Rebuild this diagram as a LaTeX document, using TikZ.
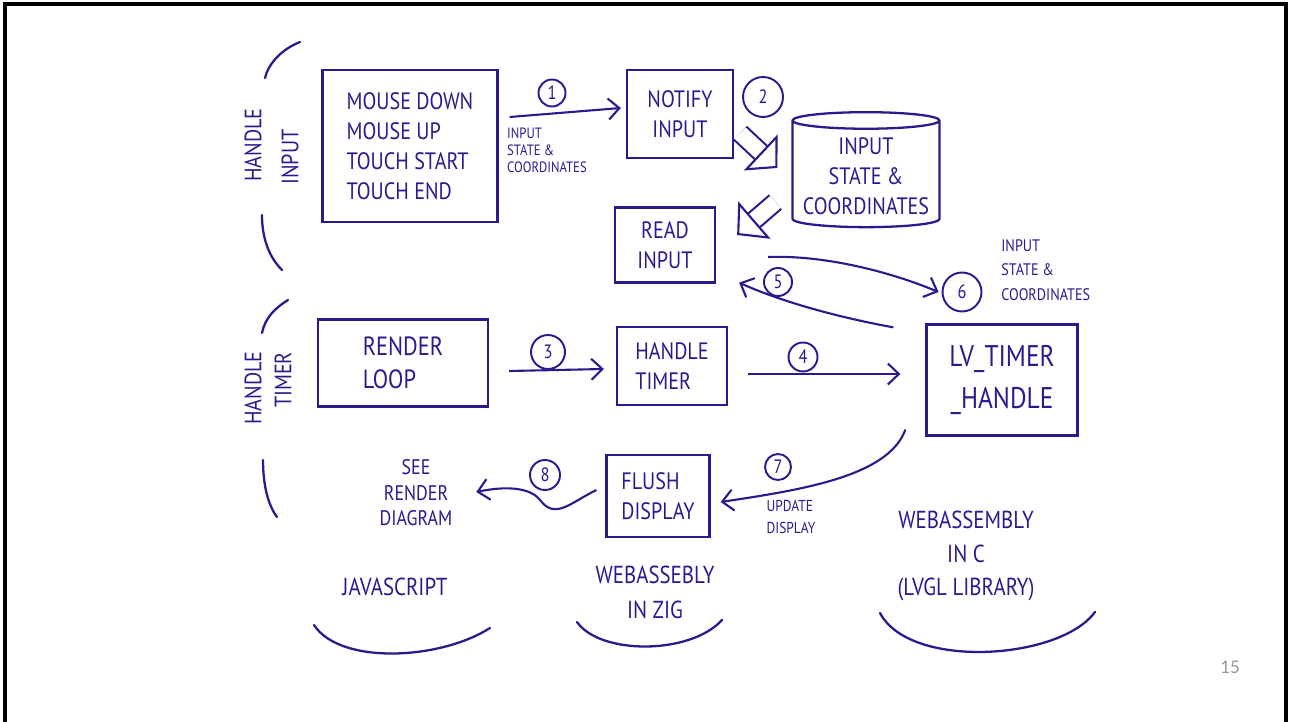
\documentclass[tikz,border=0pt]{standalone}
\usepackage{fontspec}
\newfontfamily\handfont[FakeStretch=0.85]{PT Sans}
\newfontfamily\slidefont{Carlito}
\usetikzlibrary{arrows.meta, positioning, calc, shapes.geometric}
\definecolor{Ink}{HTML}{2B1A8E}
\tikzset{
  hbox/.style={draw=Ink, line width=1.3pt, align=center, text=Ink,
    inner sep=4pt, font=\handfont\fontsize{13.5}{17}\selectfont},
  dbase/.style={cylinder, shape border rotate=90, shape aspect=0.12,
    draw=Ink, line width=1.3pt, align=center, text=Ink,
    font=\handfont\fontsize{13.5}{17}\selectfont},
  side/.style={text=Ink, inner sep=2pt, font=\handfont\fontsize{13.5}{17}\selectfont},
  lang/.style={text=Ink, align=center, inner sep=2pt,
    font=\handfont\fontsize{14}{20}\selectfont},
  note/.style={text=Ink, align=left, inner sep=2pt,
    font=\handfont\fontsize{8.5}{9.6}\selectfont},
  num/.style={circle, draw=Ink, line width=1.1pt, inner sep=0pt,
    minimum size=0.6cm, text=Ink, font=\handfont\fontsize{11}{11}\selectfont},
  flow/.style={-{Straight Barb[length=2.2mm, width=4.2mm]}, line width=1.2pt, draw=Ink},
  fat/.style={-{Triangle[open, length=13pt, width=28pt]}, line width=1.2pt,
    draw=Ink, double=white, double distance=9pt},
  curl/.style={line width=1.3pt, draw=Ink, line cap=round},
}
\begin{document}
\begin{tikzpicture}[x=0.02cm, y=-0.02cm]
  \useasboundingbox (0,0) rectangle (1293,722);
  \draw[line width=2pt] (5,722) -- (5,4) -- (1286,4) -- (1286,722);

  \node[hbox, align=left, minimum width=3.5cm, minimum height=3.04cm] (mouse) at (410,146)
    {MOUSE DOWN\\MOUSE UP\\TOUCH START\\TOUCH END};
  \node[hbox, minimum width=2.12cm, minimum height=1.76cm] (notify) at (680,114) {NOTIFY\\INPUT};
  \node[dbase, minimum width=2.94cm, minimum height=2.3cm] (store) at (866,176)
    {INPUT\\STATE \&\\COORDINATES};
  \node[hbox, minimum width=2cm, minimum height=1.5cm] (read) at (665,245) {READ\\INPUT};
  \node[hbox, align=left, minimum width=3.4cm, minimum height=1.74cm,
    font=\handfont\fontsize{15}{19}\selectfont] (render) at (403,363) {RENDER\\LOOP};
  \node[hbox, align=left, minimum width=2.2cm, minimum height=1.56cm] (htimer) at (672,366) {HANDLE\\TIMER};
  \node[hbox, minimum width=3.02cm, minimum height=2.22cm,
    font=\handfont\fontsize{17}{24}\selectfont] (lv) at (1002,380) {LV\_TIMER\\\_HANDLE};
  \node[hbox, align=left, minimum width=2.06cm, minimum height=1.64cm] (flush) at (658,496) {FLUSH\\DISPLAY};

  \node[side, rotate=90] (hin) at (253,145) {HANDLE};
  \node[side, rotate=90] (hinput) at (290,157) {INPUT};
  \node[side, rotate=90] (htm) at (253,388) {HANDLE};
  \node[side, rotate=90] (htimer2) at (283,380) {TIMER};

  \node[num, minimum size=0.54cm] (n1) at (552,93) {1};
  \node[num, minimum size=0.8cm] (n2) at (763,97) {2};
  \node[num, minimum size=0.68cm] (n3) at (548,352) {3};
  \node[num, minimum size=0.58cm] (n4) at (803,357) {4};
  \node[num, minimum size=0.56cm] (n5) at (778,282) {5};
  \node[num, minimum size=0.78cm] (n6) at (962,292) {6};
  \node[num, minimum size=0.52cm] (n7) at (778,467) {7};
  \node[num, minimum size=0.6cm] (n8) at (545,475) {8};

  \node[note] (lbl1) at (547,150) {INPUT\\STATE \&\\COORDINATES};
  \node[note, font=\handfont\fontsize{9.5}{14}\selectfont, right=0.3cm of n6, yshift=0.44cm] (lbl6)
    {INPUT\\STATE \&\\COORDINATES};
  \node[note, font=\handfont\fontsize{9}{12.5}\selectfont] (lbl7) at (791,517) {UPDATE\\DISPLAY};
  \node[lang, font=\handfont\fontsize{12}{14.5}\selectfont] (see) at (416,493) {SEE\\RENDER\\DIAGRAM};
  \node[lang] (js) at (395,587) {JAVASCRIPT};
  \node[lang] (zig) at (655,592) {WEBASSEBLY\\IN ZIG};
  \node[lang, font=\handfont\fontsize{14}{19}\selectfont] (wc) at (966,556)
    {WEBASSEMBLY\\IN C\\(LVGL LIBRARY)};

  \draw[flow] ($(mouse.east)+(11,-29)$) -- ($(notify.west)+(-5,-6)$);
  \draw[fat] ($(notify.south east)+(6,-26)$) -- ($(store.west)+(-14,-8)$);
  \draw[fat] ($(store.west)+(-16,26)$) -- ($(read.east)+(21,-10)$);
  \draw[flow] ($(render.east)+(20,8)$) -- ($(htimer.west)+(-12,3)$);
  \draw[flow] ($(htimer.east)+(20,8)$) -- ($(lv.west)+(-25,-6)$);
  \draw[flow] ($(lv.north west)+(-32,4)$) .. controls +(-55,-10) and +(42,19) .. ($(read.south east)+(23,-1)$);
  \draw[flow] ($(read.east)+(52,12)$) .. controls +(53,-2) and +(-53,-22) .. ($(n6.west)+(-3,0)$);
  \draw[flow] ($(lv.south west)+(-20,-7)$) .. controls +(-17,47) and +(80,-12) .. ($(flush.east)+(10,6)$);
  \draw[flow] ($(flush.west)+(-9,-6)$) .. controls (570,503) and (555,520) .. (540,500)
    .. controls (530,487) and (505,486) .. ($(see.east)+(20,-1)$);

  \draw[curl] (300,42) .. controls (280,50) and (268,65) .. (265,78);
  \draw[curl] (262,215) .. controls (262,240) and (270,258) .. (282,270);
  \draw[curl] (288,300) .. controls (275,308) and (265,318) .. (262,333);
  \draw[curl] (263,460) .. controls (263,485) and (268,505) .. (277,517);
  \draw[curl] (314,625) .. controls (340,665) and (440,660) .. (490,628);
  \draw[curl] (577,622) .. controls (600,655) and (690,655) .. (722,620);
  \draw[curl] (880,613) .. controls (910,670) and (1060,660) .. (1095,612);

  \node[font=\slidefont\fontsize{11}{11}\selectfont, text=black!40] (page) at (1230,667) {15};
\end{tikzpicture}
\end{document}
